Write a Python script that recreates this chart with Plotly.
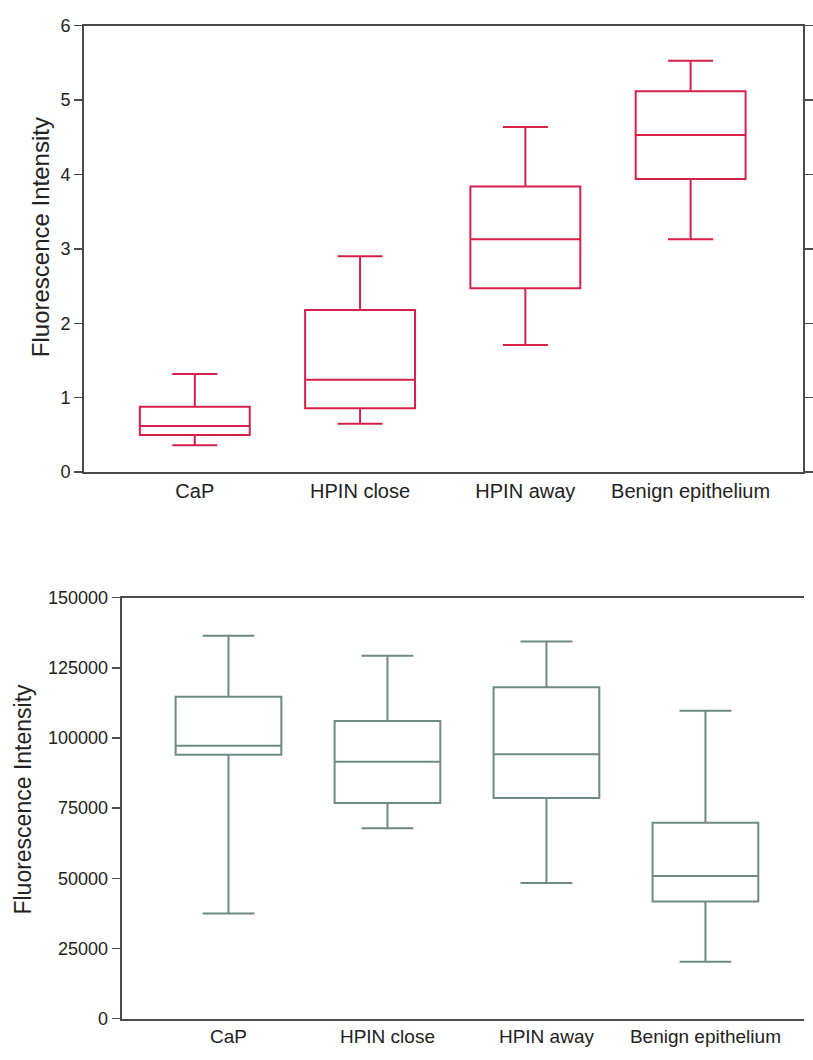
import plotly.graph_objects as go

categories = ["CaP", "HPIN close", "HPIN away", "Benign epithelium"]

# Top panel
top_low = [0.36, 0.65, 1.71, 3.13]
top_q1 = [0.50, 0.86, 2.47, 3.94]
top_median = [0.62, 1.24, 3.13, 4.53]
top_q3 = [0.88, 2.18, 3.84, 5.12]
top_high = [1.32, 2.90, 4.64, 5.53]

# Bottom panel
bot_low = [37500, 67800, 48300, 20300]
bot_q1 = [94000, 76800, 78600, 41700]
bot_median = [97200, 91500, 94200, 50800]
bot_q3 = [114700, 106100, 118100, 69800]
bot_high = [136400, 129300, 134400, 109700]

W, H = 813, 1060
RED = "#d6204a"
GREEN = "#6e8a82"
AXIS = "#4a4a4a"
FONT = "Liberation Sans, Arial, sans-serif"

fig = go.Figure()
fig.add_trace(go.Box(
    x=categories, q1=top_q1, median=top_median, q3=top_q3,
    lowerfence=top_low, upperfence=top_high,
    boxpoints=False, width=0.665, whiskerwidth=0.41,
    fillcolor="rgba(0,0,0,0)", line=dict(color=RED, width=2),
    xaxis="x", yaxis="y", showlegend=False, hoverinfo="skip",
))
fig.add_trace(go.Box(
    x=categories, q1=bot_q1, median=bot_median, q3=bot_q3,
    lowerfence=bot_low, upperfence=bot_high,
    boxpoints=False, width=0.665, whiskerwidth=0.49,
    fillcolor="rgba(0,0,0,0)", line=dict(color=GREEN, width=2),
    xaxis="x2", yaxis="y2", showlegend=False, hoverinfo="skip",
))

def px_x(p):
    return p / W

def px_y(p):
    return 1 - p / H

common_x = dict(
    type="category", showgrid=False, zeroline=False,
    showline=True, linecolor=AXIS, linewidth=2, ticks="",
    tickfont=dict(family=FONT, size=19, color="#222"),
    fixedrange=True,
)
common_y = dict(
    showgrid=False, zeroline=False, showline=True, linecolor=AXIS,
    linewidth=2, ticks="outside", ticklen=8, tickwidth=1.5, tickcolor=AXIS,
    tickfont=dict(family=FONT, size=18, color="#222"),
    fixedrange=True,
)

fig.update_layout(
    width=W, height=H,
    margin=dict(l=0, r=0, t=0, b=0),
    paper_bgcolor="white", plot_bgcolor="white",
    hovermode=False,
    xaxis=dict(common_x, domain=[px_x(85), px_x(812)], anchor="y",
               range=[-0.67, 3.68], mirror=True,
               tickfont=dict(family=FONT, size=20, color="#222")),
    yaxis=dict(common_y, domain=[px_y(471), px_y(16)], anchor="x",
               range=[0, 6], dtick=1, mirror="ticks"),
    xaxis2=dict(common_x, domain=[px_x(123), 1.0], anchor="y2",
                range=[-0.672, 3.62], mirror=True),
    yaxis2=dict(common_y, domain=[px_y(1028), px_y(599)], anchor="x2",
                range=[0, 150000], tickvals=[0, 25000, 50000, 75000, 100000, 125000, 150000],
                ticktext=["0", "25000", "50000", "75000", "100000", "125000", "150000"],
                mirror=False),
    annotations=[
        dict(text="Fluorescence Intensity", textangle=-90, x=px_x(41), y=px_y(232),
             xref="paper", yref="paper", showarrow=False, xanchor="center", yanchor="middle",
             font=dict(family=FONT, size=24, color="#222")),
        dict(text="Fluorescence Intensity", textangle=-90, x=px_x(23), y=px_y(804),
             xref="paper", yref="paper", showarrow=False, xanchor="center", yanchor="middle",
             font=dict(family=FONT, size=23, color="#222")),
    ],
)

post = (
    "document.documentElement.style.margin='0';"
    "document.documentElement.style.overflow='hidden';"
    "document.body.style.margin='0';"
    "document.body.style.overflow='hidden';"
    "var gd=document.getElementById('{plot_id}');"
    "gd.style.position='fixed';gd.style.top='0px';gd.style.left='0px';"
)

fig.write_html(
    "out.html",
    config={"displayModeBar": False, "staticPlot": True},
    post_script=post,
)
